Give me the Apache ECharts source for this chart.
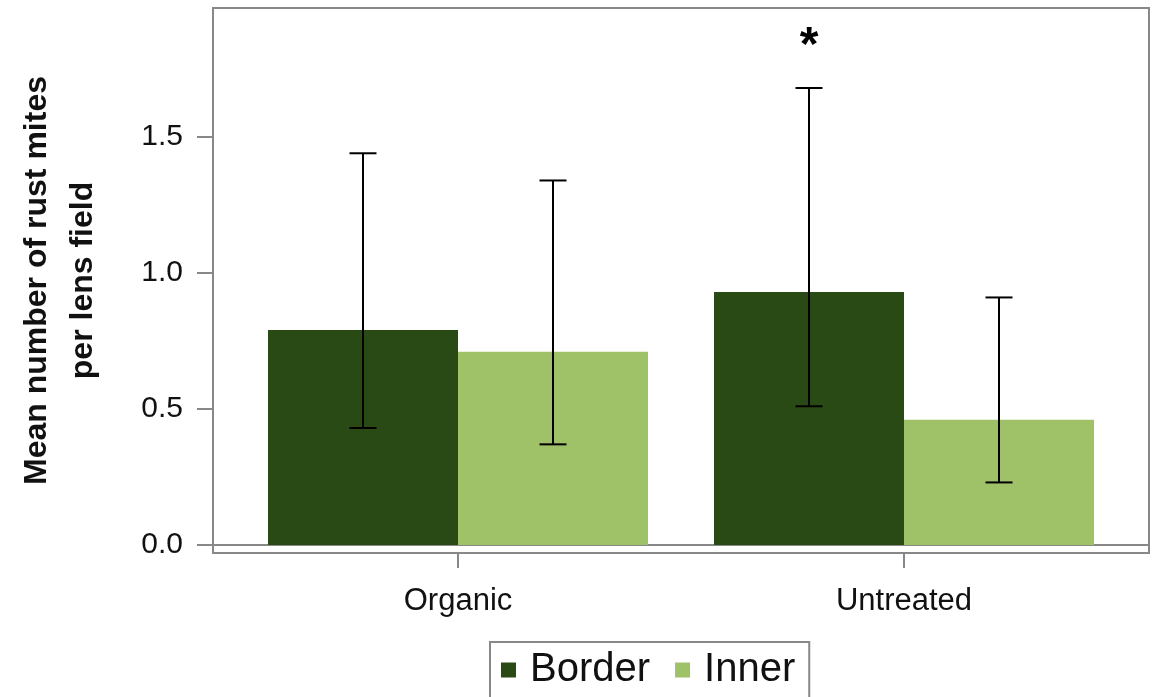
<!DOCTYPE html>
<html>
<head>
<meta charset="utf-8">
<script src="https://cdn.jsdelivr.net/npm/echarts@6/dist/echarts.min.js"></script>
<style>
  html, body { margin: 0; padding: 0; background: #fff; }
  #chart { width: 1158px; height: 697px; }
</style>
</head>
<body>
<div id="chart"></div>
<script>
// data
var categories = ['Organic', 'Untreated'];
var borderMean = [0.79, 0.93];
var innerMean = [0.71, 0.46];
var borderLow = [0.43, 0.51];
var borderHigh = [1.44, 1.68];
var innerLow = [0.37, 0.23];
var innerHigh = [1.34, 0.91];
var borderSig = ['', '*'];
var innerSig = ['', ''];
var yTicks = [0, 0.5, 1.0, 1.5];

var FONT = '"Liberation Sans", Arial, Helvetica, sans-serif';
var DARK = '#2A4A15';
var LIGHT = '#9FC168';
var GRAY = '#888888';
var BAR_W = 190;
var Y_MIN = -0.0294, Y_MAX = 1.974;

// error bar items: [category, low, high, side(-1 border / +1 inner), sig]
var errData = [];
for (var i = 0; i < categories.length; i++) {
  errData.push([i, borderLow[i], borderHigh[i], -1, borderSig[i]]);
  errData.push([i, innerLow[i], innerHigh[i], 1, innerSig[i]]);
}

function renderErr(params, api) {
  var c = api.value(0);
  var dx = api.value(3) * BAR_W / 2;
  var lo = api.coord([c, api.value(1)]);
  var hi = api.coord([c, api.value(2)]);
  var x = lo[0] + dx;
  var cap = 13.5;
  var st = { stroke: '#000', lineWidth: 2 };
  var kids = [
    { type: 'line', shape: { x1: x, y1: hi[1], x2: x, y2: lo[1] }, style: st },
    { type: 'line', shape: { x1: x - cap, y1: hi[1], x2: x + cap, y2: hi[1] }, style: st },
    { type: 'line', shape: { x1: x - cap, y1: lo[1], x2: x + cap, y2: lo[1] }, style: st }
  ];
  var sig = api.value(4);
  if (sig) {
    kids.push({
      type: 'text',
      style: {
        x: x, y: hi[1] - 41, text: sig,
        fill: '#000', font: 'bold 48px ' + FONT,
        align: 'center', verticalAlign: 'middle'
      }
    });
  }
  return { type: 'group', children: kids };
}

var chart = echarts.init(document.getElementById('chart'));
var option = {
  animation: false,
  textStyle: { fontFamily: FONT },
  grid: [
    { left: 213, top: 8, width: 936, height: 545, show: true, borderColor: GRAY, borderWidth: 2, containLabel: false },
    { left: 235, top: 8, width: 892, height: 545, containLabel: false }
  ],
  legend: {
    data: ['Border', 'Inner'],
    left: 490, top: 642,
    padding: [5, 14, 5, 11],
    borderColor: GRAY, borderWidth: 2,
    icon: 'rect', itemWidth: 15, itemHeight: 15, itemGap: 25,
    selectedMode: false,
    textStyle: { fontFamily: FONT, fontSize: 40, color: '#111', lineHeight: 46, padding: [0, 0, 0, 9] }
  },
  xAxis: [
    {
      gridIndex: 0, type: 'value', min: 0, max: 1,
      axisLine: { show: true, onZero: true, lineStyle: { color: GRAY, width: 2 } },
      axisTick: { show: false }, axisLabel: { show: false }, splitLine: { show: false }
    },
    {
      gridIndex: 1, type: 'category', data: categories,
      axisLine: { show: false, onZero: false },
      axisTick: { show: true, alignWithLabel: true, length: 15, lineStyle: { color: GRAY, width: 2 } },
      axisLabel: { fontFamily: FONT, fontSize: 31, color: '#111', margin: 33 },
      splitLine: { show: false }
    }
  ],
  yAxis: [
    {
      gridIndex: 0, type: 'value', min: Y_MIN, max: Y_MAX,
      name: 'Mean number of rust mites\nper lens field',
      nameLocation: 'middle', nameGap: 107,
      nameTextStyle: { fontFamily: FONT, fontSize: 32, fontWeight: 'bold', color: '#111', lineHeight: 46, align: 'center' },
      axisLine: { show: false },
      axisTick: { show: true, length: 16, customValues: yTicks, lineStyle: { color: GRAY, width: 2 } },
      axisLabel: {
        customValues: yTicks, fontFamily: FONT, fontSize: 30, color: '#111', margin: 30,
        formatter: function (v) { return v.toFixed(1); }
      },
      splitLine: { show: false }
    },
    {
      gridIndex: 1, type: 'value', min: Y_MIN, max: Y_MAX, show: false
    }
  ],
  series: [
    {
      name: 'Border', type: 'bar', xAxisIndex: 1, yAxisIndex: 1,
      data: borderMean, barWidth: BAR_W, barGap: '0%',
      itemStyle: { color: DARK }
    },
    {
      name: 'Inner', type: 'bar', xAxisIndex: 1, yAxisIndex: 1,
      data: innerMean, barWidth: BAR_W, barGap: '0%',
      itemStyle: { color: LIGHT }
    },
    {
      name: 'err', type: 'custom', xAxisIndex: 1, yAxisIndex: 1,
      renderItem: renderErr, data: errData, z: 10, silent: true
    }
  ]
};
chart.setOption(option);
</script>
</body>
</html>
